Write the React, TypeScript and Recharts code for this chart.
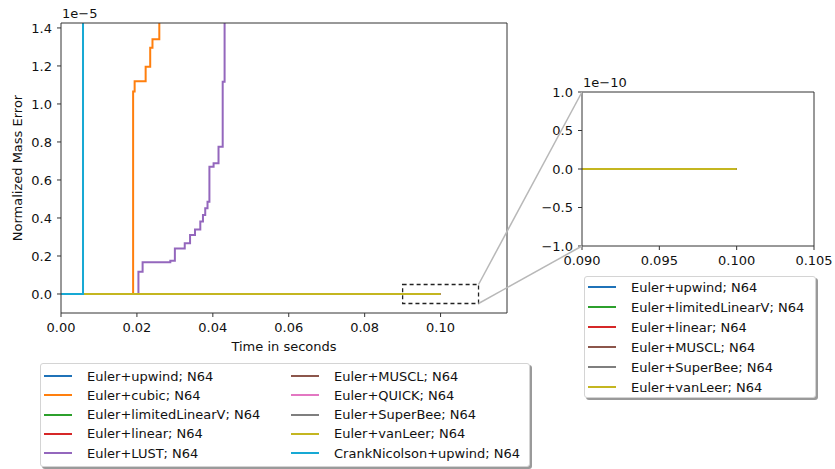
import React from 'react';
import { LineChart, Line, XAxis, YAxis, ReferenceArea } from 'recharts';

const FONT = '"DejaVu Sans", "Liberation Sans", sans-serif';
const W = 835;
const H = 469;

// Time (s) and normalized mass error for each run
const zeroTime = [0, 0.1];
const zeroErr = [0, 0];

const cubicTime = [0, 0.019, 0.0194, 0.0223, 0.0235, 0.0241, 0.0259];
const cubicErr = [0, 1.065e-5, 1.12e-5, 1.196e-5, 1.296e-5, 1.34e-5, 3e-5];

const lustTime = [
  0, 0.0204, 0.0215, 0.0288, 0.03, 0.0326, 0.034, 0.0353, 0.0367, 0.0374,
  0.038, 0.0386, 0.0391, 0.0402, 0.0415, 0.0426, 0.0431,
];
const lustErr = [
  0, 0.117e-5, 0.167e-5, 0.175e-5, 0.24e-5, 0.267e-5, 0.311e-5, 0.34e-5,
  0.381e-5, 0.416e-5, 0.451e-5, 0.486e-5, 0.67e-5, 0.688e-5, 0.775e-5,
  1.117e-5, 3e-5,
];

const crankTime = [0, 0.0058];
const crankErr = [0, 3e-5];

// Axis ticks
const mainXTicks = [0, 0.02, 0.04, 0.06, 0.08, 0.1];
const mainYTicksE5 = [0, 0.2, 0.4, 0.6, 0.8, 1.0, 1.2, 1.4];
const insetXTicks = [0.09, 0.095, 0.1, 0.105];
const insetYTicksE10 = [-1, -0.5, 0, 0.5, 1];

// Axis ranges
const mainXDomain: [number, number] = [0, 0.1175];
const mainYDomain: [number, number] = [-0.1e-5, 1.426e-5];
const insetXDomain: [number, number] = [0.09, 0.105];
const insetYDomain: [number, number] = [-1e-10, 1e-10];

// Zoomed region shown in the inset
const zoomX: [number, number] = [0.09, 0.11];
const zoomY: [number, number] = [-0.05e-5, 0.05e-5];

const toPoints = (t: number[], v: number[]) => t.map((x, i) => ({ t: x, v: v[i] }));

type Series = { name: string; color: string; pts: { t: number; v: number }[]; inset: boolean };

const series: Series[] = [
  { name: 'Euler+upwind; N64', color: '#1f72b8', pts: toPoints(zeroTime, zeroErr), inset: true },
  { name: 'Euler+cubic; N64', color: '#ff7f0e', pts: toPoints(cubicTime, cubicErr), inset: false },
  { name: 'Euler+limitedLinearV; N64', color: '#2ca02c', pts: toPoints(zeroTime, zeroErr), inset: true },
  { name: 'Euler+linear; N64', color: '#d62728', pts: toPoints(zeroTime, zeroErr), inset: true },
  { name: 'Euler+LUST; N64', color: '#9467bd', pts: toPoints(lustTime, lustErr), inset: false },
  { name: 'Euler+MUSCL; N64', color: '#8c564b', pts: toPoints(zeroTime, zeroErr), inset: true },
  { name: 'Euler+QUICK; N64', color: '#e377c2', pts: toPoints(zeroTime, zeroErr), inset: false },
  { name: 'Euler+SuperBee; N64', color: '#7f7f7f', pts: toPoints(zeroTime, zeroErr), inset: true },
  { name: 'Euler+vanLeer; N64', color: '#c4b620', pts: toPoints(zeroTime, zeroErr), inset: true },
  { name: 'CrankNicolson+upwind; N64', color: '#17a9d4', pts: toPoints(crankTime, crankErr), inset: false },
];

// Plot-area boxes in page pixels
const MAIN = { left: 61, top: 23, right: 507, bottom: 313 };
const INSET = { left: 582, top: 92, right: 814, bottom: 246 };

// Space reserved for the axes around each plot area
const Y_AXIS_W = 50;
const X_AXIS_H = 30;
const EDGE = 1;

const mainPx = (t: number) =>
  MAIN.left + ((t - mainXDomain[0]) / (mainXDomain[1] - mainXDomain[0])) * (MAIN.right - MAIN.left);
const mainPy = (v: number) =>
  MAIN.bottom - ((v - mainYDomain[0]) / (mainYDomain[1] - mainYDomain[0])) * (MAIN.bottom - MAIN.top);

const minus = (s: string) => s.replace('-', '\u2212');
const AXIS = '#333';
const tickStyle = { fill: '#111', fontSize: 13, fontFamily: FONT };

const marginFor = (b: { left: number; top: number; right: number; bottom: number }) => ({
  left: b.left - Y_AXIS_W,
  top: b.top - EDGE,
  right: W - b.right - EDGE,
  bottom: H - b.bottom - X_AXIS_H,
});

const LegendBox = ({
  items, left, top, width, height, rowH, firstY, colX,
}: {
  items: Series[][]; left: number; top: number; width: number; height: number;
  rowH: number; firstY: number; colX: number[];
}) => (
  <div
    style={{
      position: 'absolute', left, top, width, height, boxSizing: 'border-box',
      border: '1px solid #d4d4d4', borderRadius: 3, background: '#fff',
      boxShadow: '2px 2px 0 #9a9a9a', fontFamily: FONT, fontSize: 13, color: '#111',
    }}
  >
    {items.map((col, ci) =>
      col.map((s, ri) => (
        <div
          key={s.name}
          style={{
            position: 'absolute', left: colX[ci], top: firstY + ri * rowH - 9,
            height: 18, display: 'flex', alignItems: 'center', whiteSpace: 'nowrap',
          }}
        >
          <span style={{ display: 'inline-block', width: 28, height: 2, background: s.color, marginRight: 15 }} />
          <span>{s.name}</span>
        </div>
      ))
    )}
  </div>
);

export default function App() {
  const insetSeries = series.filter((s) => s.inset);
  return (
    <div style={{ position: 'absolute', left: 0, top: 0, width: W, height: H, background: '#fff', overflow: 'hidden' }}>
      <div style={{ position: 'absolute', left: 0, top: 0 }}>
        <LineChart width={W} height={H} margin={marginFor(MAIN)}>
          <XAxis
            dataKey="t" type="number" domain={mainXDomain} allowDataOverflow ticks={mainXTicks}
            tickFormatter={(v: number) => v.toFixed(2)} height={X_AXIS_H} tickSize={4} tickMargin={6}
            stroke={AXIS} tick={tickStyle} interval={0}
          />
          <XAxis xAxisId="top" orientation="top" type="number" domain={[0, 1]} height={EDGE} tick={false} tickLine={false} stroke={AXIS} />
          <YAxis
            type="number" domain={mainYDomain} allowDataOverflow ticks={mainYTicksE5.map((v) => v * 1e-5)}
            tickFormatter={(v: number) => (v / 1e-5).toFixed(1)} width={Y_AXIS_W} tickSize={4} tickMargin={5}
            stroke={AXIS} tick={tickStyle} interval={0}
          />
          <YAxis yAxisId="right" orientation="right" type="number" domain={[0, 1]} width={EDGE} tick={false} tickLine={false} stroke={AXIS} />
          {series.map((s) => (
            <Line
              key={s.name} data={s.pts} dataKey="v" type="stepAfter" stroke={s.color}
              strokeWidth={2} dot={false} isAnimationActive={false}
            />
          ))}
          <ReferenceArea
            x1={zoomX[0]} x2={zoomX[1]} y1={zoomY[0]} y2={zoomY[1]} fill="none" fillOpacity={0}
            stroke="#222" strokeWidth={1.3} strokeDasharray="4 3" ifOverflow="visible"
          />
        </LineChart>
      </div>

      <div style={{ position: 'absolute', left: 0, top: 0 }}>
        <LineChart width={W} height={H} margin={marginFor(INSET)}>
          <XAxis
            dataKey="t" type="number" domain={insetXDomain} allowDataOverflow ticks={insetXTicks}
            tickFormatter={(v: number) => v.toFixed(3)} height={X_AXIS_H} tickSize={4} tickMargin={6}
            stroke={AXIS} tick={tickStyle} interval={0}
          />
          <XAxis xAxisId="top" orientation="top" type="number" domain={[0, 1]} height={EDGE} tick={false} tickLine={false} stroke={AXIS} />
          <YAxis
            type="number" domain={insetYDomain} allowDataOverflow ticks={insetYTicksE10.map((v) => v * 1e-10)}
            tickFormatter={(v: number) => minus((v / 1e-10).toFixed(1))} width={Y_AXIS_W} tickSize={4} tickMargin={5}
            stroke={AXIS} tick={tickStyle} interval={0}
          />
          <YAxis yAxisId="right" orientation="right" type="number" domain={[0, 1]} width={EDGE} tick={false} tickLine={false} stroke={AXIS} />
          {insetSeries.map((s) => (
            <Line
              key={s.name} data={s.pts} dataKey="v" type="linear" stroke={s.color}
              strokeWidth={2} dot={false} isAnimationActive={false}
            />
          ))}
        </LineChart>
      </div>

      <svg width={W} height={H} style={{ position: 'absolute', left: 0, top: 0, pointerEvents: 'none' }}>
        <line x1={mainPx(zoomX[1])} y1={mainPy(zoomY[1])} x2={INSET.left} y2={INSET.top} stroke="#b8b8b8" strokeWidth={1.5} />
        <line x1={mainPx(zoomX[1])} y1={mainPy(zoomY[0])} x2={INSET.left} y2={INSET.bottom} stroke="#b8b8b8" strokeWidth={1.5} />
        <text x={MAIN.left + 1} y={MAIN.top - 5} fontFamily={FONT} fontSize={13} fill="#111">1e−5</text>
        <text x={INSET.left + 1} y={INSET.top - 5} fontFamily={FONT} fontSize={13} fill="#111">1e−10</text>
        <text
          x={18} y={(MAIN.top + MAIN.bottom) / 2} fontFamily={FONT} fontSize={13} fill="#111"
          textAnchor="middle" dominantBaseline="middle"
          transform={`rotate(-90 18 ${(MAIN.top + MAIN.bottom) / 2})`}
        >
          Normalized Mass Error
        </text>
        <text x={(MAIN.left + MAIN.right) / 2} y={351} fontFamily={FONT} fontSize={13} fill="#111" textAnchor="middle">
          Time in seconds
        </text>
      </svg>

      <LegendBox
        items={[series.slice(0, 5), series.slice(5)]}
        left={40} top={363} width={490} height={104} rowH={19.3} firstY={12} colX={[3, 250]}
      />
      <LegendBox
        items={[insetSeries]}
        left={584} top={276} width={232} height={122} rowH={20} firstY={10} colX={[3]}
      />
    </div>
  );
}
